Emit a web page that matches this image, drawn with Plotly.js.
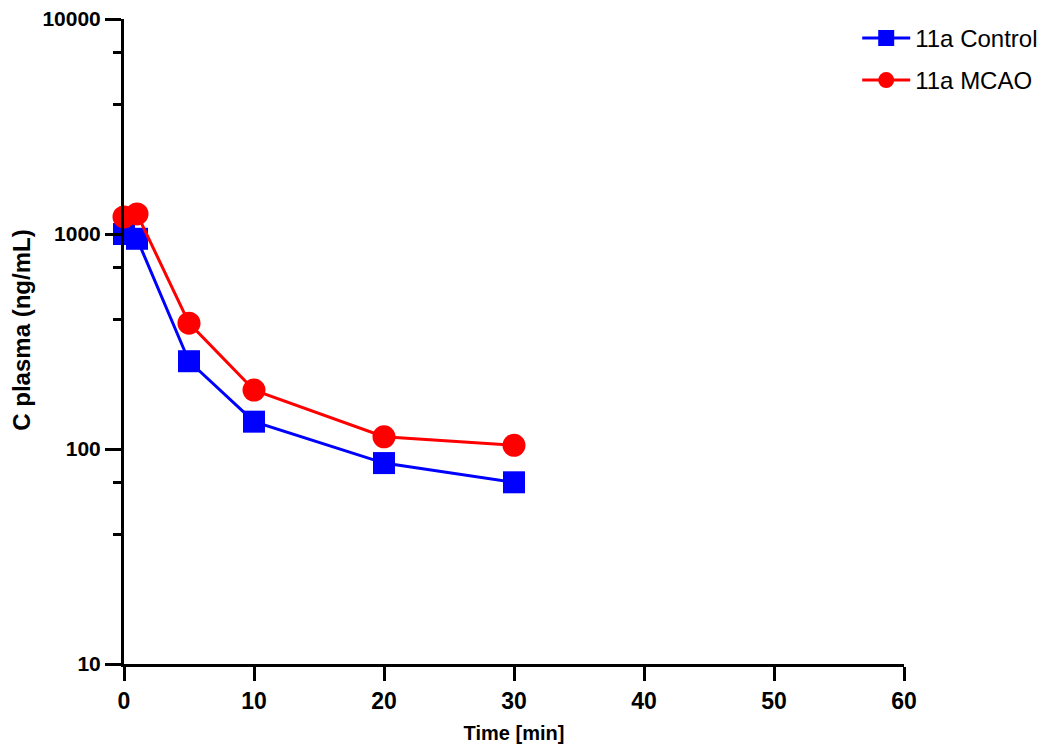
<!DOCTYPE html>
<html>
<head>
<meta charset="utf-8">
<script src="https://cdn.plot.ly/plotly-3.0.1.min.js"></script>
<style>html,body{margin:0;padding:0;background:#fff;}#chart{width:1050px;height:752px;}</style>
</head>
<body>
<div id="chart"></div>
<script>
const timeMin = [0, 1, 5, 10, 20, 30];
const controlValues = [1000, 950, 256, 134, 86, 70];
const mcaoValues = [1200, 1240, 385, 188, 114, 104];
const xTickVals = [0, 10, 20, 30, 40, 50, 60];
const yTickVals = [10, 100, 1000, 10000];
const yTickText = ["10", "100", "1000", "10000"];
const yMinorVals = [40, 70, 400, 700, 4000, 7000];

const traces = [
  {
    x: timeMin, y: controlValues, name: "11a Control", type: "scatter", mode: "lines+markers",
    legendgroup: "a",
    line: {color: "#0000ff", width: 3},
    marker: {symbol: "square", size: 22, color: "#0000ff"},
    cliponaxis: false
  },
  {
    x: timeMin, y: mcaoValues, name: "11a MCAO", type: "scatter", mode: "lines+markers",
    legendgroup: "b",
    line: {color: "#ff0000", width: 3},
    marker: {symbol: "circle", size: 23, color: "#ff0000"},
    cliponaxis: false
  }
];

const layout = {
  width: 1050, height: 752,
  margin: {l: 124, r: 146, t: 19, b: 88, autoexpand: false},
  paper_bgcolor: "#ffffff", plot_bgcolor: "#ffffff",
  font: {family: "Liberation Sans, Arial, sans-serif", color: "#000"},
  showlegend: true,
  legend: {
    x: 0.94, y: 1.005, xanchor: "left", yanchor: "top",
    font: {size: 24, color: "#000"},
    bgcolor: "rgba(0,0,0,0)", itemwidth: 48, tracegroupgap: 8
  },
  xaxis: {
    range: [0, 60], tickvals: xTickVals, ticktext: xTickVals.map(v => "<b>" + v + "</b>"),
    showgrid: false, zeroline: false, showline: true, linecolor: "#000", linewidth: 3,
    ticks: "outside", ticklen: 14, tickwidth: 3, tickcolor: "#000",
    tickfont: {size: 23},
    title: {text: "<b>Time [min]</b>", font: {size: 20}, standoff: 14}
  },
  yaxis: {
    type: "log", range: [1, 4], tickvals: yTickVals, ticktext: yTickText.map(v => "<b>" + v + "</b>"),
    showgrid: false, zeroline: false, showline: true, linecolor: "#000", linewidth: 3,
    ticks: "outside", ticklen: 16, tickwidth: 3, tickcolor: "#000",
    tickfont: {size: 21},
    minor: {tickmode: "array", tickvals: yMinorVals, ticks: "outside", ticklen: 8, tickwidth: 3, tickcolor: "#000", showgrid: false}
  },
  annotations: [
    {
      text: "<b>C plasma (ng/mL)</b>", textangle: -90, showarrow: false,
      xref: "paper", yref: "paper", x: -0.131, y: 0.518, xanchor: "center", yanchor: "middle",
      font: {size: 24, color: "#000"}
    }
  ]
};

Plotly.newPlot("chart", traces, layout, {displayModeBar: false, staticPlot: true});
</script>
</body>
</html>
